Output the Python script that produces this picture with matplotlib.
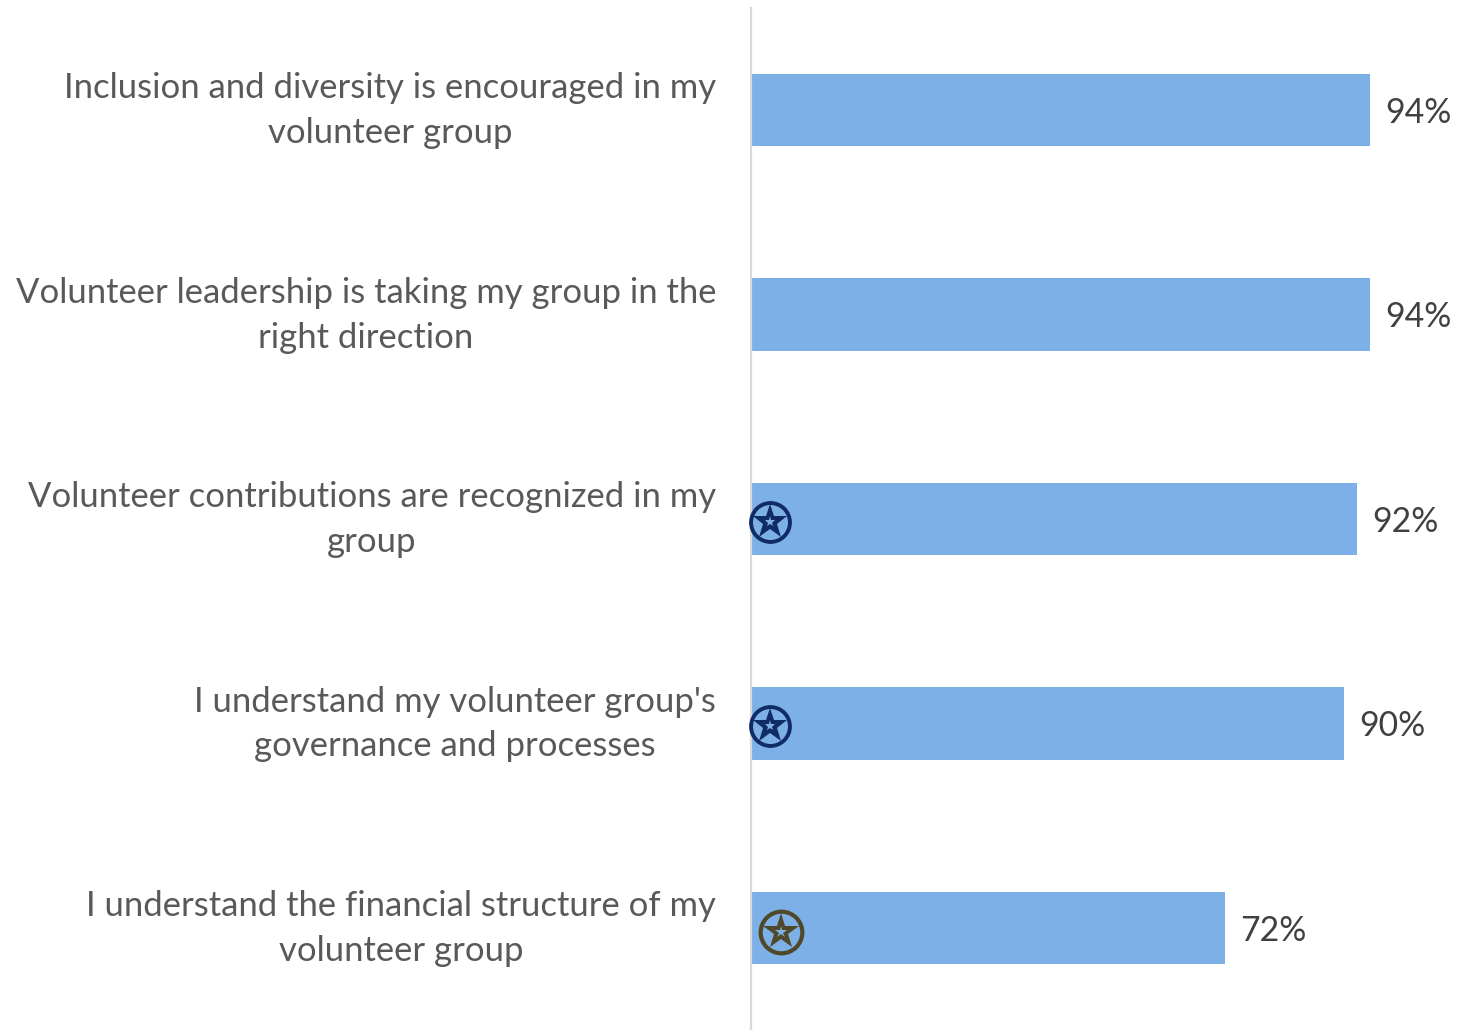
import matplotlib
matplotlib.use("Agg")
import matplotlib.pyplot as plt
from matplotlib.transforms import offset_copy

plt.rcParams['font.family'] = ['Lato', 'DejaVu Sans']

labels = ["Inclusion and diversity is encouraged in my\nvolunteer group",
          "Volunteer leadership is taking my group in the\nright direction",
          "Volunteer contributions are recognized in my\ngroup",
          "I understand my volunteer group's\ngovernance and processes",
          "I understand the financial structure of my\nvolunteer group"]
values = [94, 94, 92, 90, 72]
value_labels = ["94%", "94%", "92%", "90%", "72%"]
badges = [None, None, "#0F2D64", "#0F2D64", "#4F4829"]

W, H = 1473, 1030
fig = plt.figure(figsize=(W/100, H/100), dpi=100)
ax = fig.add_axes([751/W, 0, (1473-751)/W, 1-8/H])
ypos = list(range(len(values)))
bar_color = "#7DB0E6"
ax.barh(ypos, values, height=0.354, color=bar_color)
ax.set_xlim(0, 722/(619/94))
ax.set_ylim(4.5, -0.5)
for s in ['top', 'right', 'bottom']:
    ax.spines[s].set_visible(False)
ax.spines['left'].set_color('#D9D9D9')
ax.spines['left'].set_linewidth(1.6)
ax.xaxis.set_visible(False)
ax.set_yticks(ypos)
ax.set_yticklabels([])
ax.tick_params(axis='y', length=0)

for y, lab in zip(ypos, labels):
    ax.annotate(lab, (0, y), xytext=(-35*0.72, -0.4), textcoords='offset points',
                va='center', ha='right', multialignment='center',
                fontsize=24.9, color="#595959", linespacing=1.49)

for y, v, s, c in zip(ypos, values, value_labels, badges):
    ax.annotate(s, (v, y), xytext=(11, -2), textcoords='offset points',
                va='center', ha='left', fontsize=24.3, color="#404040")
    if c:
        big = v < 80
        bx = 4.55 if big else 2.95
        tr = offset_copy(ax.transData, fig=fig, x=0, y=-(4 if big else 2.5), units='dots')
        ax.plot([bx], [y], transform=tr, marker='o', ms=30 if big else 28, mfc='none', mec=c,
                mew=3.0 if big else 2.8, zorder=5, clip_on=False)
        ax.plot([bx], [y], transform=tr, marker='*', ms=27 if big else 26, mfc=c, mec=c, mew=0, zorder=6, clip_on=False)
        ax.plot([bx], [y], transform=tr, marker='*', ms=9 if big else 8, mfc=bar_color, mec=bar_color, mew=0, zorder=7, clip_on=False)
fig.savefig("out.png", dpi=100)
